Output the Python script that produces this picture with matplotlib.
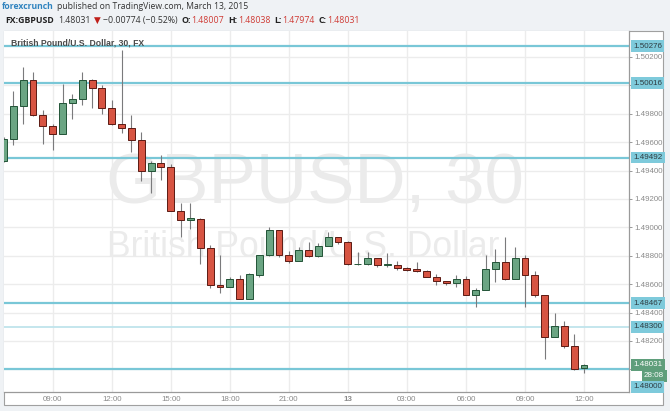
import matplotlib
matplotlib.use("Agg")
import matplotlib.pyplot as plt
from matplotlib.patches import Rectangle
from matplotlib.transforms import offset_copy

# GBP/USD 30-minute candles, 12 Mar 2015 06:30 -> 13 Mar 2015 12:00
opens = [
    1.49470, 1.49620, 1.49853, 1.50038, 1.49789, 1.49712, 1.49658, 1.49874, 1.49904, 1.50036,
    1.49984, 1.49839, 1.49726, 1.49698, 1.49613, 1.49395, 1.49451, 1.49423, 1.49118, 1.49050,
    1.49061, 1.48855, 1.48594, 1.48578, 1.48634, 1.48494, 1.48665, 1.48803, 1.48980, 1.48803,
    1.48765, 1.48839, 1.48796, 1.48867, 1.48932, 1.48899, 1.48740, 1.48740, 1.48785, 1.48738,
    1.48735, 1.48716, 1.48705, 1.48691, 1.48653, 1.48620, 1.48608, 1.48634, 1.48526, 1.48559,
    1.48705, 1.48756, 1.48637, 1.48785, 1.48667, 1.48522, 1.48230, 1.48306, 1.48165, 1.48007,
]
highs = [
    1.49637, 1.49961, 1.50132, 1.50094, 1.49825, 1.49726, 1.50010, 1.49937, 1.50092, 1.50043,
    1.50005, 1.49895, 1.50249, 1.49789, 1.49670, 1.49470, 1.49508, 1.49446, 1.49170, 1.49170,
    1.49068, 1.48878, 1.48808, 1.48653, 1.48667, 1.48681, 1.48805, 1.49001, 1.48982, 1.48836,
    1.48860, 1.48895, 1.48888, 1.48966, 1.48935, 1.48905, 1.48829, 1.48825, 1.48787, 1.48818,
    1.48761, 1.48718, 1.48756, 1.48700, 1.48672, 1.48625, 1.48663, 1.48656, 1.48573, 1.48806,
    1.48848, 1.48930, 1.48864, 1.48806, 1.48691, 1.48525, 1.48395, 1.48343, 1.48247, 1.48038,
]
lows = [
    1.49460, 1.49578, 1.49726, 1.49784, 1.49589, 1.49545, 1.49655, 1.49765, 1.49860, 1.49843,
    1.49799, 1.49720, 1.49667, 1.49531, 1.49329, 1.49244, 1.49334, 1.49118, 1.48934, 1.48991,
    1.48742, 1.48571, 1.48540, 1.48578, 1.48494, 1.48494, 1.48649, 1.48800, 1.48789, 1.48747,
    1.48763, 1.48794, 1.48794, 1.48867, 1.48883, 1.48738, 1.48738, 1.48738, 1.48719, 1.48719,
    1.48698, 1.48695, 1.48688, 1.48650, 1.48594, 1.48592, 1.48582, 1.48524, 1.48442, 1.48557,
    1.48618, 1.48632, 1.48635, 1.48442, 1.48508, 1.48075, 1.48228, 1.48149, 1.47994, 1.47974,
]
closes = [
    1.49620, 1.49853, 1.50038, 1.49792, 1.49712, 1.49658, 1.49874, 1.49906, 1.50036, 1.49984,
    1.49839, 1.49726, 1.49698, 1.49613, 1.49395, 1.49451, 1.49423, 1.49118, 1.49050, 1.49064,
    1.48855, 1.48592, 1.48578, 1.48634, 1.48494, 1.48670, 1.48803, 1.48980, 1.48803, 1.48765,
    1.48839, 1.48796, 1.48867, 1.48932, 1.48899, 1.48740, 1.48745, 1.48785, 1.48735, 1.48742,
    1.48716, 1.48700, 1.48691, 1.48653, 1.48620, 1.48608, 1.48634, 1.48526, 1.48559, 1.48707,
    1.48756, 1.48634, 1.48785, 1.48667, 1.48522, 1.48230, 1.48306, 1.48165, 1.48005, 1.48031,
]

# horizontal support / resistance lines drawn on the chart
level_lines = [1.50276, 1.50016, 1.49492, 1.48467, 1.48000]
faint_line = 1.48300

price_ticks = [1.502, 1.500, 1.498, 1.496, 1.494, 1.492, 1.490, 1.488, 1.486, 1.484, 1.482, 1.480]
hidden_ticks = [1.500, 1.480]  # labels hidden behind the line labels

time_tick_idx = [5, 11, 17, 23, 29, 35, 41, 47, 53, 59]
time_tick_labels = ["09:00", "12:00", "15:00", "18:00", "21:00", "13",
                    "03:00", "06:00", "09:00", "12:00"]

last_price = 1.48031
countdown = "28:08"

# Colors (TradingView 2015 look)
BG = "#eff2f5"
UP_BODY, UP_EDGE = "#6ba583", "#225437"
DN_BODY, DN_EDGE = "#d75442", "#5b1a13"
WICK = "#7a7a7c"
LINE = "#79c7d7"
LINE_FAINT = "#bfe4ec"
GRID = "#ececec"
AXIS_TXT = "#8a8a8a"
WATERMARK = "#ebebeb"

W, H = 670, 411
fig = plt.figure(figsize=(W / 100, H / 100), dpi=100, facecolor=BG)

# white chart panel incl. price and time scales
fig.patches.append(Rectangle((4 / W, (H - 405) / H), 659 / W, 374 / H,
                             transform=fig.transFigure, facecolor="white",
                             edgecolor="#a0a0a0", linewidth=0.8, zorder=-5))

ax = fig.add_axes([4 / W, (H - 392) / H, 625 / W, 361 / H])
ax.set_facecolor("white")
ax.set_xlim(0.05, 63.57)
ax.set_ylim(1.478408, 1.503831)

# grid
for i in time_tick_idx:
    ax.axvline(i, color=GRID, linewidth=1, zorder=0.2)
for p in price_ticks:
    ax.axhline(p, color=GRID, linewidth=1, zorder=0.2)

# watermark
ax.text(0.4976, 0.573, "GBPUSD, 30", transform=ax.transAxes, ha="center", va="center",
        fontsize=51, color=WATERMARK, family="Liberation Sans", zorder=0.3)
ax.text(0.479, 0.399, "British Pound/U.S. Dollar", transform=ax.transAxes, ha="center",
        va="center", fontsize=25.6, color=WATERMARK, family="Liberation Sans", zorder=0.3)

# level lines
for p in level_lines:
    ax.axhline(p, color=LINE, linewidth=1.6, zorder=1)
ax.axhline(faint_line, color=LINE_FAINT, linewidth=1.3, zorder=1)

# candles
for i in range(len(opens)):
    o, h, l, c = opens[i], highs[i], lows[i], closes[i]
    up = c >= o
    ax.vlines(i, l, h, color=WICK, linewidth=0.8, zorder=2)
    ax.bar(i, max(abs(c - o), 0.00002), bottom=min(o, c), width=0.7,
           color=UP_BODY if up else DN_BODY, edgecolor=UP_EDGE if up else DN_EDGE,
           linewidth=0.7, zorder=3)

# axes styling
for side in ["top", "left"]:
    ax.spines[side].set_visible(False)
for side in ["right", "bottom"]:
    ax.spines[side].set_color("#9a9a9a")
    ax.spines[side].set_linewidth(0.9)

ax.set_xticks(time_tick_idx)
ax.set_xticklabels(time_tick_labels, family="Liberation Sans")
for lbl in ax.get_xticklabels():
    if lbl.get_text() == "13":
        lbl.set_color("#555555")
        lbl.set_fontweight("bold")
ax.tick_params(axis="x", length=0, pad=3, labelsize=5.7, labelcolor=AXIS_TXT)

ax.yaxis.tick_right()
ax.set_yticks(price_ticks)
ax.set_yticklabels(["" if p in hidden_ticks else f"{p:.5f}" for p in price_ticks],
                   family="Liberation Sans")
ax.tick_params(axis="y", length=2.5, width=0.7, color="#999999", pad=1.5,
               labelsize=5.7, labelcolor=AXIS_TXT)


def price_box(price, text, fc, tc, dy=0, dx=4):
    tr = offset_copy(ax.get_yaxis_transform(), fig=fig, x=dx, y=dy, units="dots")
    ax.text(1.0, price, text, transform=tr, ha="left", va="center", fontsize=5.8,
            family="Liberation Sans", color=tc, clip_on=False, zorder=6,
            bbox=dict(boxstyle="square,pad=0.3", fc=fc, ec="none"))


for p in level_lines[:-1]:
    price_box(p, f"{p:.5f}", "#7ecadb", "#2e3b40")
price_box(faint_line, f"{faint_line:.5f}", "#7ecadb", "#2e3b40")
price_box(last_price, f"{last_price:.5f}", "#5f9e7b", "white")
price_box(last_price, countdown, "#5f9e7b", "white", dy=-11, dx=15)
price_box(last_price, f"{level_lines[-1]:.5f}", "#7ecadb", "#2e3b40", dy=-22)

# chart caption inside the panel
fig.text(11 / W, 1 - 42.7 / H, "British Pound/U.S. Dollar, 30, FX", fontsize=6.2,
         fontweight="bold", color="#4a4a4a", family="Liberation Sans", va="center")

# header lines above the panel
renderer = fig.canvas.get_renderer()


def draw_run(x, y, parts, size):
    for s, color, weight, gap in parts:
        t = fig.text(x / W, 1 - y / H, s, color=color, fontweight=weight, fontsize=size,
                     family=["Open Sans", "DejaVu Sans"], va="center", ha="left")
        x += t.get_window_extent(renderer).width + gap


RED = "#cf3b35"
DARK = "#333333"
draw_run(2, 6.7, [
    ("forexcrunch", "#2f83bf", "bold", 3),
    ("published on TradingView.com, March 13, 2015", DARK, "normal", 0),
], 6.25)
draw_run(5, 20.7, [
    ("FX:GBPUSD", "#222222", "bold", 4),
    ("1.48031", DARK, "normal", 4),
    ("\u25bc", "#c0201a", "normal", 2),
    ("\u22120.00774 (\u22120.52%)", DARK, "normal", 4),
    ("O:", "#222222", "bold", 0.5), ("1.48007", RED, "normal", 4),
    ("H:", "#222222", "bold", 0.5), ("1.48038", RED, "normal", 4),
    ("L:", "#222222", "bold", 0.5), ("1.47974", RED, "normal", 4),
    ("C:", "#222222", "bold", 0.5), ("1.48031", RED, "normal", 0),
], 6.35)

fig.savefig("out.png", dpi=100, facecolor=BG)
